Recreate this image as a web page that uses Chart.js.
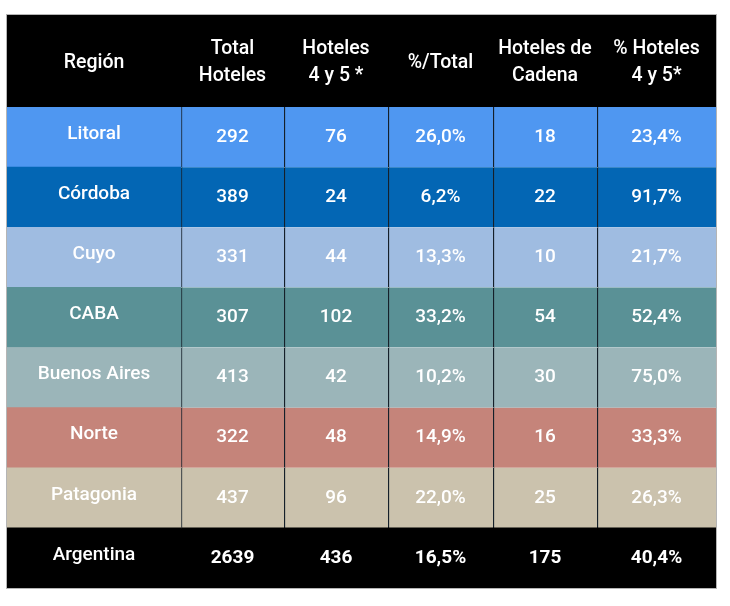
<!DOCTYPE html>
<html>
<head>
<meta charset="utf-8">
<script src="https://cdn.jsdelivr.net/npm/chart.js@4/dist/chart.umd.min.js"></script>
<style>
  body { margin: 0; background: #fff; }
  canvas { display: block; }
</style>
</head>
<body>
<canvas id="table" width="730" height="606"></canvas>
<script>
// Table content
const regions = ['Litoral', 'Córdoba', 'Cuyo', 'CABA', 'Buenos Aires', 'Norte', 'Patagonia', 'Argentina'];
const totalHoteles = [292, 389, 331, 307, 413, 322, 437, 2639];
const hoteles45 = [76, 24, 44, 102, 42, 48, 96, 436];
const pctTotal = [26.0, 6.2, 13.3, 33.2, 10.2, 14.9, 22.0, 16.5];
const hotelesCadena = [18, 22, 10, 54, 30, 16, 25, 175];
const pctHoteles45 = [23.4, 91.7, 21.7, 52.4, 75.0, 33.3, 26.3, 40.4];
const headers = [['Región'], ['Total', 'Hoteles'], ['Hoteles', '4 y 5 *'], ['%/Total'], ['Hoteles de', 'Cadena'], ['% Hoteles', '4 y 5*']];

// Layout / styling
const colWidths = [174, 103, 104, 105, 104, 119];
const rowColors = ['#4f97f1', '#0366b4', '#9fbce1', '#5a9196', '#9bb5b9', '#c5847a', '#cbc2ad', '#000000'];
const sepColor = '#15202a';
const headerHeight = 92;

const pct = v => v.toFixed(1).replace('.', ',') + '%';
const columns = [regions, totalHoteles, hoteles45, pctTotal.map(pct), hotelesCadena, pctHoteles45.map(pct)];

const colEdges = [0];
colWidths.forEach(w => colEdges.push(colEdges[colEdges.length - 1] + w));
const lastRow = regions.length - 1;

const datasets = columns.map((col, j) => ({
    label: headers[j].join(' '),
    data: regions.map(() => [colEdges[j], colEdges[j + 1]]),
    backgroundColor: rowColors,
    borderColor: sepColor,
    borderSkipped: false,
    borderWidth: ctx => (j > 0 && ctx.dataIndex < lastRow) ? { left: 1.5, right: 0, top: 0, bottom: 0 } : 0,
    barPercentage: 1,
    categoryPercentage: 1
}));

const tableText = {
    id: 'tableText',
    beforeDatasetsDraw(chart) {
        const { ctx, chartArea, scales: { x } } = chart;
        // header band
        ctx.save();
        ctx.fillStyle = '#000';
        ctx.fillRect(chartArea.left, chartArea.top - headerHeight, chartArea.right - chartArea.left, headerHeight);
        ctx.fillStyle = '#fff';
        ctx.font = '500 19.5px Roboto';
        ctx.textAlign = 'center';
        ctx.textBaseline = 'middle';
        const hy = chartArea.top - headerHeight / 2 + 2;
        headers.forEach((lines, j) => {
            const cx = (x.getPixelForValue(colEdges[j]) + x.getPixelForValue(colEdges[j + 1])) / 2;
            lines.forEach((t, k) => {
                ctx.fillText(t, cx, hy + (k - (lines.length - 1) / 2) * 27);
            });
        });
        ctx.restore();
    },
    afterDatasetsDraw(chart) {
        const { ctx, chartArea } = chart;
        ctx.save();
        ctx.fillStyle = '#fff';
        ctx.textAlign = 'center';
        ctx.textBaseline = 'middle';
        chart.data.datasets.forEach((ds, j) => {
            chart.getDatasetMeta(j).data.forEach((el, i) => {
                const bold = i === lastRow && j > 0;
                ctx.font = (bold ? '700 ' : '500 ') + '19px Roboto';
                const cx = (el.x + el.base) / 2;
                const cy = el.y + (j === 0 ? -3 : 0);
                ctx.fillText(String(columns[j][i]), cx, cy);
            });
        });
        // outer frame
        ctx.strokeStyle = '#b5b5b5';
        ctx.lineWidth = 1;
        ctx.strokeRect(chartArea.left - 0.5, chartArea.top - headerHeight - 0.5,
            chartArea.right - chartArea.left + 1, chartArea.bottom - chartArea.top + headerHeight + 1);
        ctx.restore();
    }
};

new Chart(document.getElementById('table'), {
    type: 'bar',
    data: { labels: regions, datasets: datasets },
    options: {
        indexAxis: 'y',
        responsive: false,
        animation: false,
        devicePixelRatio: 1,
        layout: { padding: { left: 7, right: 14, top: 15 + headerHeight, bottom: 18 } },
        plugins: { legend: { display: false }, tooltip: { enabled: false } },
        scales: {
            x: { type: 'linear', min: 0, max: colEdges[colEdges.length - 1], display: false, stacked: false },
            y: { type: 'category', display: false, stacked: true, offset: true }
        }
    },
    plugins: [tableText]
});
</script>
</body>
</html>
